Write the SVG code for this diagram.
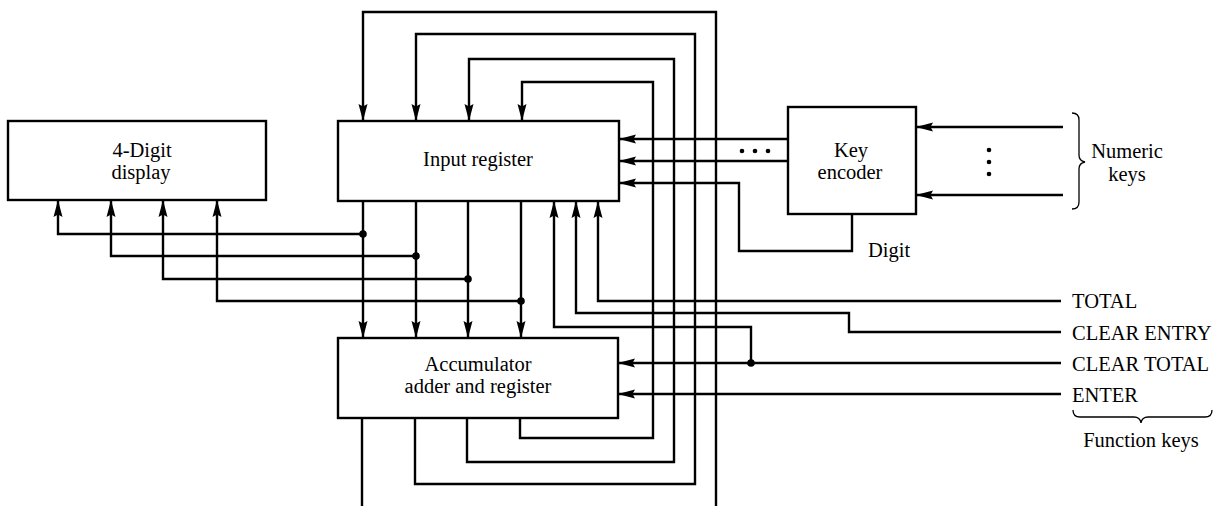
<svg xmlns="http://www.w3.org/2000/svg" width="1221" height="506" viewBox="0 0 1221 506">
<style>
.box{fill:#fff;stroke:#000;stroke-width:2.4}
.w{fill:none;stroke:#000;stroke-width:2.4;stroke-linejoin:miter}
.a{marker-end:url(#arr)}
.t{font-family:"Liberation Serif","Times New Roman",serif;font-size:20.5px;fill:#000}
.m{text-anchor:middle}
.br{fill:none;stroke:#000;stroke-width:1.3}
</style>
<defs>
<marker id="arr" markerUnits="userSpaceOnUse" markerWidth="18" markerHeight="10" refX="17" refY="5" orient="auto">
<path d="M0,0.5 L17,5 L0,9.5 L2.5,5 z" fill="#000"/>
</marker>
</defs>
<rect width="1221" height="506" fill="#fff"/>
<g id="connectors">
<path class="w" d="M362,418 V506"/>
<path class="w a" d="M716,506 V12 H363 V121"/>
<path class="w a" d="M415,418 V484 H695 V34 H416 V121"/>
<path class="w a" d="M467,418 V462 H674 V59 H469 V121"/>
<path class="w a" d="M520,418 V438 H653 V82 H522 V121"/>
<path class="w a" d="M363,201 V338"/>
<path class="w a" d="M416,201 V338"/>
<path class="w a" d="M468,201 V338"/>
<path class="w a" d="M521,201 V338"/>
<path class="w a" d="M363,234 H58 V200"/>
<path class="w a" d="M416,256 H111 V200"/>
<path class="w a" d="M468,279 H163 V200"/>
<path class="w a" d="M521,301 H217 V200"/>
<path class="w a" d="M788,139 H619"/>
<path class="w a" d="M788,161 H619"/>
<path class="w a" d="M852,214 V251 H739 V183 H619"/>
<path class="w a" d="M1063,127 H916"/>
<path class="w a" d="M1063,195 H916"/>
<path class="w a" d="M1061,301 H598 V201"/>
<path class="w a" d="M1061,332 H849 V313 H576 V201"/>
<path class="w a" d="M1061,363 H618"/>
<path class="w a" d="M751,363 V327 H554 V201"/>
<path class="w a" d="M1061,394 H618"/>
<circle cx="363" cy="234" r="3.8"/>
<circle cx="416" cy="256" r="3.8"/>
<circle cx="468" cy="279" r="3.8"/>
<circle cx="521" cy="301" r="3.8"/>
<circle cx="751" cy="363" r="3.8"/>
<circle cx="742" cy="151" r="2.3"/>
<circle cx="755" cy="151" r="2.3"/>
<circle cx="768" cy="151" r="2.3"/>
<circle cx="989" cy="150" r="2.3"/>
<circle cx="989" cy="162" r="2.3"/>
<circle cx="989" cy="174" r="2.3"/>
</g>
<g id="display">
<rect class="box" x="8" y="121" width="258" height="79"/>
<text class="t m" x="142" y="157">4-Digit</text>
<text class="t m" x="141" y="179">display</text>
</g>
<g id="input-register">
<rect class="box" x="338" y="121" width="281" height="80"/>
<text class="t m" x="478" y="166">Input register</text>
</g>
<g id="accumulator">
<rect class="box" x="338" y="338" width="280" height="80"/>
<text class="t m" x="478" y="371">Accumulator</text>
<text class="t m" x="478" y="393">adder and register</text>
</g>
<g id="key-encoder">
<rect class="box" x="788" y="107" width="128" height="107"/>
<text class="t m" x="851" y="157">Key</text>
<text class="t m" x="850" y="179">encoder</text>
</g>
<g id="digit-label">
<text class="t" x="868" y="257">Digit</text>
</g>
<g id="numeric-keys">
<path class="br" d="M1072,113 Q1079,113 1079,120 V155 Q1079,161 1085,162 Q1079,163 1079,169 V202 Q1079,209 1072,209"/>
<text class="t m" x="1127" y="158">Numeric</text>
<text class="t m" x="1127" y="181">keys</text>
</g>
<g id="function-keys">
<text class="t" x="1072" y="308">TOTAL</text>
<text class="t" x="1072" y="340">CLEAR ENTRY</text>
<text class="t" x="1072" y="371">CLEAR TOTAL</text>
<text class="t" x="1072" y="402">ENTER</text>
<path class="br" d="M1073,410 Q1073,417 1080,417 H1134 Q1140,417 1141,423 Q1142,417 1148,417 H1205 Q1212,417 1212,410"/>
<text class="t m" x="1141" y="447">Function keys</text>
</g>
</svg>
